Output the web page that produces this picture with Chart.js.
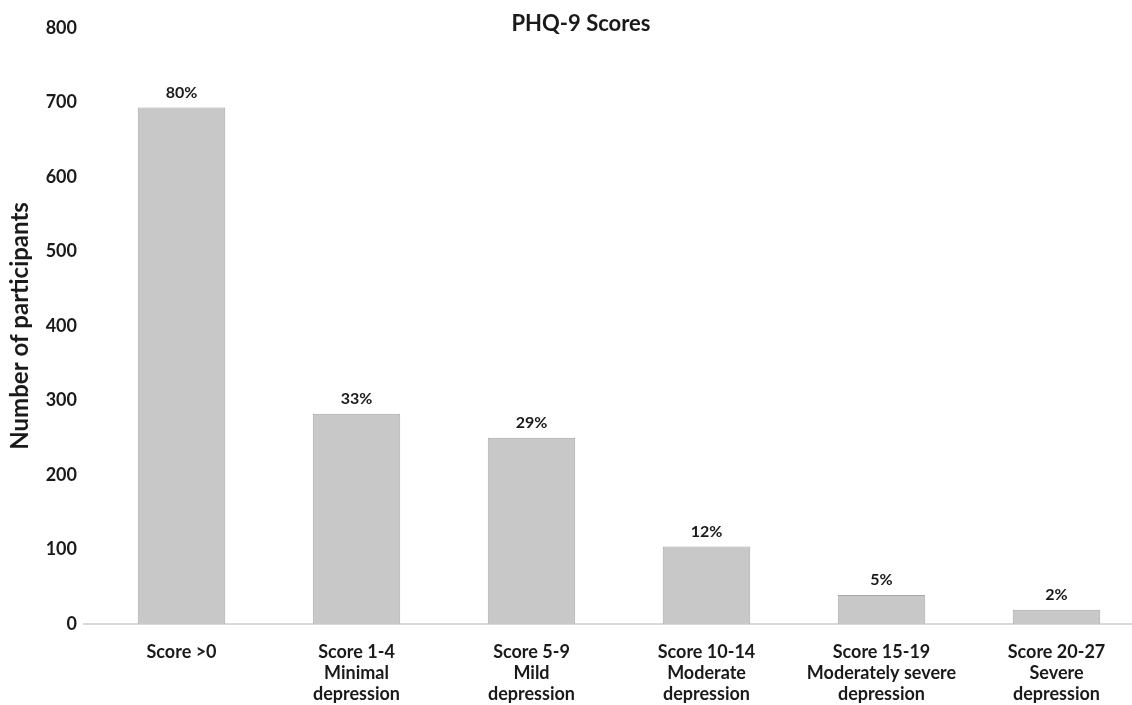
<!DOCTYPE html>
<html>
<head>
<meta charset="utf-8">
<script src="https://cdn.jsdelivr.net/npm/chart.js@4.4.1/dist/chart.umd.min.js"></script>
<style>
  html, body { margin: 0; padding: 0; background: #ffffff; overflow: hidden; }
  #wrap { position: relative; width: 1146px; height: 705px; }
</style>
</head>
<body>
<div id="wrap"><canvas id="chart"></canvas></div>
<script>
// PHQ-9 score groups (multi-line category labels)
const categories = [
  ['Score >0'],
  ['Score 1-4', 'Minimal', 'depression'],
  ['Score 5-9', 'Mild', 'depression'],
  ['Score 10-14', 'Moderate', 'depression'],
  ['Score 15-19', 'Moderately severe', 'depression'],
  ['Score 20-27', 'Severe', 'depression']
];
// Number of participants in each group
const participants = [693, 282, 250, 104, 39, 19];
// Share of participants shown above each bar
const percentLabels = ['80%', '33%', '29%', '12%', '5%', '2%'];
// Y axis range
const yTicks = [0, 100, 200, 300, 400, 500, 600, 700, 800];

const FONT = 'Lato, "Open Sans", "DejaVu Sans", sans-serif';
const TEXT = '#1a1a1a';

// Percent labels above the bars, the chart heading and the baseline stub
const overlayPlugin = {
  id: 'overlay',
  beforeDatasetsDraw(chart) {
    const ctx = chart.ctx;
    const area = chart.chartArea;
    ctx.save();
    ctx.strokeStyle = '#d9d9d9';
    ctx.lineWidth = 2;
    ctx.beginPath();
    ctx.moveTo(area.left - 11, area.bottom);
    ctx.lineTo(area.right, area.bottom);
    ctx.stroke();
    ctx.restore();
  },
  afterDatasetsDraw(chart) {
    const ctx = chart.ctx;
    const meta = chart.getDatasetMeta(0);
    ctx.save();
    ctx.fillStyle = TEXT;
    ctx.font = 'bold 16px ' + FONT;
    ctx.textAlign = 'center';
    ctx.textBaseline = 'middle';
    meta.data.forEach((bar, i) => {
      ctx.fillText(percentLabels[i], bar.x, bar.y - 15);
    });
    ctx.font = 'bold 22px ' + FONT;
    ctx.fillText('PHQ-9 Scores', chart.width / 2 + 8, chart.chartArea.top - 4);
    ctx.restore();
  }
};

new Chart(document.getElementById('chart'), {
  type: 'bar',
  data: {
    labels: categories,
    datasets: [{
      data: participants,
      backgroundColor: '#c8c8c8',
      borderColor: '#a8a8a8',
      borderWidth: 1,
      barPercentage: 0.5,
      categoryPercentage: 1.0
    }]
  },
  options: {
    responsive: true,
    maintainAspectRatio: false,
    animation: false,
    layout: { padding: { top: 24, right: 2, left: 0, bottom: 0 } },
    plugins: {
      legend: { display: false },
      title: { display: false },
      tooltip: { enabled: false }
    },
    scales: {
      x: {
        grid: { display: false, drawTicks: false },
        border: { display: false },
        ticks: {
          color: TEXT,
          font: { family: FONT, size: 18, weight: 'bold', lineHeight: 1.17 },
          padding: 18,
          maxRotation: 0,
          autoSkip: false
        },
        afterFit(scale) { scale.height = 81; }
      },
      y: {
        min: yTicks[0],
        max: yTicks[yTicks.length - 1],
        afterBuildTicks(scale) { scale.ticks = yTicks.map(v => ({ value: v })); },
        grid: { display: false, drawTicks: false },
        border: { display: false },
        ticks: {
          color: TEXT,
          font: { family: FONT, size: 18, weight: 'bold' },
          padding: 17
        },
        title: {
          display: true,
          text: 'Number of participants',
          color: TEXT,
          font: { family: FONT, size: 24, weight: 'bold' },
          padding: { top: 6, bottom: 0 }
        },
        afterFit(scale) { scale.width = 94; }
      }
    }
  },
  plugins: [overlayPlugin]
});
</script>
</body>
</html>
